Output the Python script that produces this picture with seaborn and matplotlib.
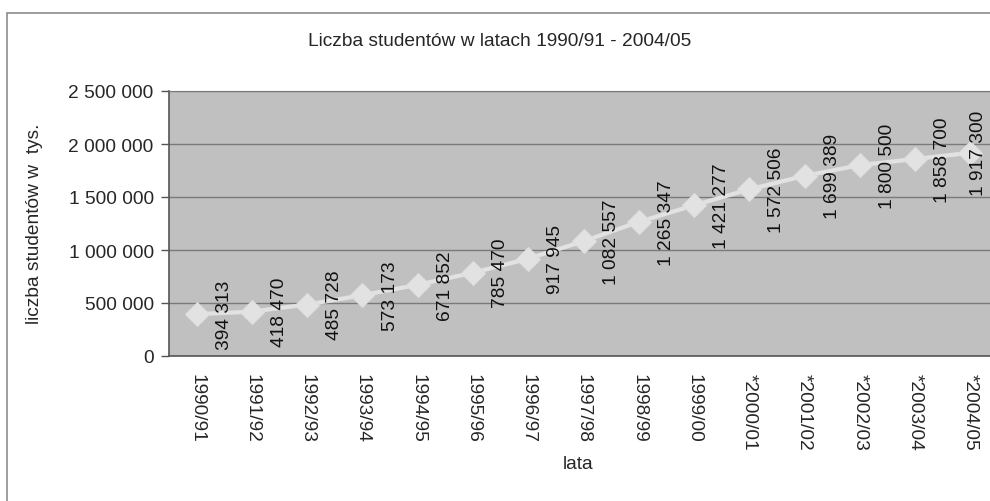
import matplotlib
matplotlib.use('Agg')
import matplotlib.pyplot as plt
import matplotlib.ticker as mticker
from matplotlib.patches import Rectangle
import seaborn as sns
import numpy as np
import pandas as pd

lata = ['1990/91', '1991/92', '1992/93', '1993/94', '1994/95', '1995/96',
        '1996/97', '1997/98', '1998/99', '1999/00', '*2000/01', '*2001/02',
        '*2002/03', '*2003/04', '*2004/05']
studenci = [394313, 418470, 485728, 573173, 671852, 785470, 917945, 1082557,
            1265347, 1421277, 1572506, 1699389, 1800500, 1858700, 1917300]

df = pd.DataFrame({'poz': np.arange(len(lata)), 'studenci': studenci})

sns.set_style('white')
plt.rcParams['font.family'] = ['Liberation Sans', 'DejaVu Sans']
fs = 13.8

def fmt(v, pos=None):
    return f'{v:,.0f}'.replace(',', ' ')

W, H = 990, 502
fig = plt.figure(figsize=(W / 100, H / 100), dpi=100)

# ramka wykresu
fig.patches.append(Rectangle((7 / W, -0.05), 1.1, 1 - 14 / H + 0.05,
                             transform=fig.transFigure, fill=False,
                             edgecolor='#8c8c8c', lw=1.2))

ax = fig.add_axes([169 / W, 145 / H, 829 / W, 265 / H])
ax.set_facecolor('#c0c0c0')

sns.lineplot(data=df, x='poz', y='studenci', ax=ax, color='#e2e2e2', lw=3,
             marker='D', markersize=12, markeredgecolor='#dedede')

ax.set_xlim(-0.5, len(lata) - 0.5)
ax.set_ylim(0, 2500000)
ax.yaxis.set_major_locator(mticker.MultipleLocator(500000))
ax.yaxis.set_major_formatter(mticker.FuncFormatter(fmt))
ax.grid(axis='y', color='#7a7a7a', lw=1)
ax.set_axisbelow(True)

ax.set_xticks(np.arange(len(lata)))
ax.set_xticklabels(lata, rotation=270, fontsize=fs, va='top', ha='center')
ax.set_xticks(np.arange(len(lata) + 1) - 0.5, minor=True)
ax.tick_params(axis='x', which='major', length=0, pad=12)
ax.tick_params(axis='x', which='minor', length=5, color='#555555', width=1)
ax.tick_params(axis='y', length=6, color='#555555', width=1, labelsize=fs, pad=5)
ax.tick_params(left=True, bottom=True)

for s in ['left', 'bottom']:
    ax.spines[s].set_color('#555555')
    ax.spines[s].set_linewidth(1.2)
ax.spines['right'].set_visible(False)
ax.spines['top'].set_color('#7a7a7a')

ax.set_xlabel('')
ax.set_ylabel('')

# etykiety danych
for i, v in enumerate(studenci):
    dx = 0.5 if i < len(studenci) - 1 else 0.15
    ax.text(i + dx, v, fmt(v), rotation=90, ha='center', va='center',
            fontsize=fs, color='#111111')

fig.text(500 / W, 1 - 42 / H, 'Liczba studentów w latach 1990/91 - 2004/05',
         ha='center', va='center', fontsize=fs)
fig.text(35 / W, 1 - 224 / H, 'liczba studentów w  tys.', rotation=90,
         ha='center', va='center', fontsize=fs)
fig.text(578 / W, 1 - 465 / H, 'lata', ha='center', va='center', fontsize=fs)

fig.savefig('out.png', dpi=100)
